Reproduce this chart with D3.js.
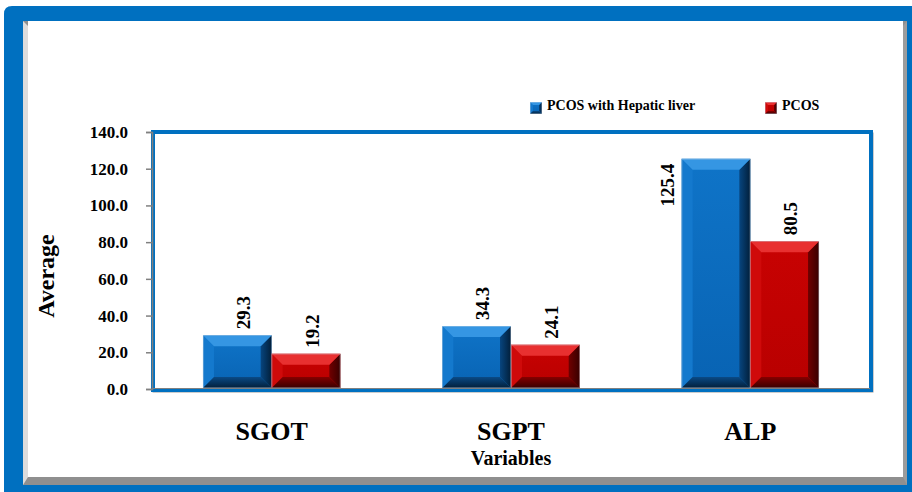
<!DOCTYPE html>
<html>
<head>
<meta charset="utf-8">
<script src="https://cdn.jsdelivr.net/npm/d3@7/dist/d3.min.js"></script>
<style>
  html, body { margin: 0; padding: 0; background: #fff; }
  svg { display: block; }
</style>
</head>
<body>
<svg id="chart" width="912" height="492"></svg>
<script>
// Liver enzyme averages by group
const categories = ["SGOT", "SGPT", "ALP"];
const seriesNames = ["PCOS with Hepatic liver", "PCOS"];
const hepaticValues = [29.3, 34.3, 125.4];
const pcosValues = [19.2, 24.1, 80.5];
const yTicks = [0, 20, 40, 60, 80, 100, 120, 140];

const SERIF = "'Liberation Serif', 'Times New Roman', Times, serif";

const svg = d3.select("#chart");

// Outer frame: blue border with an inset bevel
svg.append("path")
  .attr("d", "M4,14 Q4,6 12,6 L920,6 L920,500 L4,500 Z")
  .attr("fill", "#0070C0");
svg.append("rect").attr("x", 23).attr("y", 21).attr("width", 884).attr("height", 464).attr("fill", "#8f8f8f");
svg.append("polygon").attr("points", "23,21 28,26 28,477 23,485").attr("fill", "#dcdcdc");
svg.append("polygon").attr("points", "907,21 903,26 903,477 907,485").attr("fill", "#9c9c9c");
svg.append("rect").attr("x", 28).attr("y", 21).attr("width", 875).attr("height", 456).attr("fill", "#ffffff");

// Plot area
const plot = { left: 152, right: 870, top: 132, bottom: 389 };

const y = d3.scaleLinear().domain([0, 140]).range([plot.bottom, plot.top]);
const x0 = d3.scaleBand().domain(categories).range([plot.left, plot.right])
  .paddingInner(0.426).paddingOuter(0.213);
const x1 = d3.scaleBand().domain(seriesNames).range([0, x0.bandwidth()]).paddingInner(0);

// Plot frame with a soft grey shadow
svg.append("rect")
  .attr("x", plot.left + 2).attr("y", plot.top + 2)
  .attr("width", plot.right - plot.left).attr("height", plot.bottom - plot.top)
  .attr("fill", "none").attr("stroke", "#9a9a9a").attr("stroke-width", 3);
svg.append("rect")
  .attr("x", plot.left + 1).attr("y", plot.top)
  .attr("width", plot.right - plot.left).attr("height", plot.bottom - plot.top + 1)
  .attr("fill", "#fff").attr("stroke", "#0070C0").attr("stroke-width", 4);

// Bar palettes
const palette = {
  "PCOS with Hepatic liver": { faceTop: "#0f74c8", faceBot: "#0863b3", top: "#3596e3", left: "#1479cd", right: "#07457f", bottom: "#0a4a86", dark: "#021f3a" },
  "PCOS": { faceTop: "#c80202", faceBot: "#b80000", top: "#e83030", left: "#cf0a0a", right: "#700000", bottom: "#850000", dark: "#380000" }
};

const defs = svg.append("defs");
Object.values(palette).forEach((c, i) => {
  const g = defs.append("linearGradient").attr("id", "rg" + i).attr("x1", "0").attr("x2", "1").attr("y1", "0").attr("y2", "0");
  g.append("stop").attr("offset", "0").attr("stop-color", c.right);
  g.append("stop").attr("offset", "1").attr("stop-color", c.dark);
  const gb = defs.append("linearGradient").attr("id", "bg" + i).attr("x1", "0").attr("x2", "0").attr("y1", "0").attr("y2", "1");
  gb.append("stop").attr("offset", "0").attr("stop-color", c.bottom);
  gb.append("stop").attr("offset", "1").attr("stop-color", c.dark);
  const gf = defs.append("linearGradient").attr("id", "fg" + i).attr("x1", "0").attr("x2", "0").attr("y1", "0").attr("y2", "1");
  gf.append("stop").attr("offset", "0").attr("stop-color", c.faceTop);
  gf.append("stop").attr("offset", "1").attr("stop-color", c.faceBot);
});

// Draws a bevelled box
function bevelBox(g, bx0, by0, bx1, by1, b, c, idx) {
  b = Math.min(b, (by1 - by0) / 2.6, (bx1 - bx0) / 2.6);
  const pts = a => a.map(p => p.join(",")).join(" ");
  g.append("rect").attr("x", bx0).attr("y", by0).attr("width", bx1 - bx0).attr("height", by1 - by0).attr("fill", "url(#fg" + idx + ")");
  g.append("polygon").attr("points", pts([[bx0, by0], [bx0 + b, by0 + b], [bx0 + b, by1 - b], [bx0, by1]])).attr("fill", c.left);
  g.append("polygon").attr("points", pts([[bx1, by0], [bx1 - b, by0 + b], [bx1 - b, by1 - b], [bx1, by1]])).attr("fill", "url(#rg" + idx + ")");
  g.append("polygon").attr("points", pts([[bx0, by1], [bx0 + b, by1 - b], [bx1 - b, by1 - b], [bx1, by1]])).attr("fill", "url(#bg" + idx + ")");
  g.append("polygon").attr("points", pts([[bx0, by0], [bx1, by0], [bx1 - b, by0 + b], [bx0 + b, by0 + b]])).attr("fill", c.top);
  g.append("rect").attr("x", bx0 + 0.3).attr("y", by0 + 0.3).attr("width", bx1 - bx0 - 0.6).attr("height", by1 - by0 - 0.6)
    .attr("fill", "none").attr("stroke", "rgba(200,215,230,0.6)").attr("stroke-width", 0.6);
}

function serifText(sel, size) {
  return sel.style("font-family", SERIF).style("font-weight", "bold").attr("font-size", size).attr("fill", "#000");
}

// Bars and value labels
const rows = categories.map((cat, i) => ({ cat, values: [hepaticValues[i], pcosValues[i]] }));
const barG = svg.append("g");
const labelG = svg.append("g");
rows.forEach(r => {
  r.values.forEach((v, si) => {
    const name = seriesNames[si];
    const bx0 = x0(r.cat) + x1(name);
    const bx1 = bx0 + x1.bandwidth();
    const by0 = y(v), by1 = y(0) - 1;
    bevelBox(barG, bx0, by0, bx1, by1, 11, palette[name], si);

    const t = serifText(labelG.append("text").text(v.toFixed(1)), 19).attr("dy", "0.35em");
    const len = t.node().getComputedTextLength();
    const cx = (bx0 + bx1) / 2;
    if (by0 - 5 - len < plot.top + 4) {
      // not enough room above the bar: set it beside the bar's left edge
      t.attr("text-anchor", "end")
        .attr("transform", `translate(${bx0 - 14},${by0 + 5}) rotate(-90)`);
    } else {
      t.attr("text-anchor", "start")
        .attr("transform", `translate(${cx + 6},${by0 - 6}) rotate(-90)`);
    }
  });
});

// Y axis
const yAxis = d3.axisLeft(y).tickValues(yTicks).tickFormat(d3.format(".1f")).tickSize(6).tickPadding(18);
const yg = svg.append("g").attr("transform", `translate(${plot.left},0)`).call(yAxis);
yg.select(".domain").attr("stroke", "#808080").attr("stroke-width", 1.5);
yg.selectAll(".tick line").attr("stroke", "#808080").attr("stroke-width", 1.5);
serifText(yg.selectAll(".tick text"), 17);

// Baseline
svg.append("line").attr("x1", plot.left).attr("x2", plot.right).attr("y1", y(0) - 0.5).attr("y2", y(0) - 0.5)
  .attr("stroke", "#808080").attr("stroke-width", 1.2);

// Category labels
serifText(svg.append("g").selectAll("text").data(categories).join("text"), 26)
  .attr("x", d => x0(d) + x0.bandwidth() / 2)
  .attr("y", 440)
  .attr("text-anchor", "middle")
  .text(d => d);

// Axis titles
serifText(svg.append("text"), 20).attr("x", 511).attr("y", 465).attr("text-anchor", "middle").text("Variables");
serifText(svg.append("text"), 24).attr("transform", "translate(54,276) rotate(-90)").attr("text-anchor", "middle").text("Average");

// Legend
const legendX = [530, 765];
seriesNames.forEach((name, i) => {
  const g = svg.append("g");
  bevelBox(g, legendX[i], 102, legendX[i] + 12, 114, 3, palette[name], i);
  serifText(g.append("text"), 14).attr("x", legendX[i] + 17).attr("y", 110).text(name);
});
</script>
</body>
</html>
